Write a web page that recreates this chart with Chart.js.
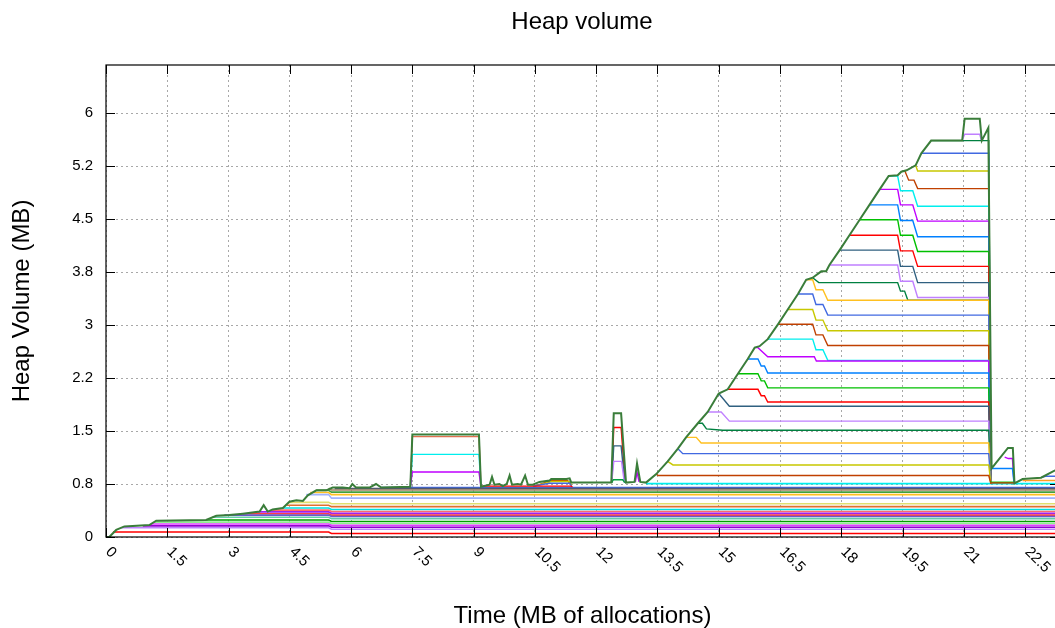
<!DOCTYPE html>
<html>
<head>
<meta charset="utf-8">
<title>Heap volume</title>
<script src="https://cdn.jsdelivr.net/npm/chart.js@4/dist/chart.umd.min.js"></script>
<style>
  html, body { margin: 0; padding: 0; background: #fff; overflow: hidden; }
  #wrap { width: 1164px; height: 628px; }
</style>
</head>
<body>
<div id="wrap"><canvas id="heap" width="1164" height="628"></canvas></div>
<script>
// ---- axis ticks ----
const xTickValues = [0, 1.5, 3, 4.5, 6, 7.5, 9, 10.5, 12, 13.5, 15, 16.5, 18, 19.5, 21, 22.5];
const xTickLabels = ['0', '1.5', '3', '4.5', '6', '7.5', '9', '10.5', '12', '13.5', '15', '16.5', '18', '19.5', '21', '22.5'];
const yTickValues = [0, 0.75, 1.5, 2.25, 3, 3.75, 4.5, 5.25, 6];
const yTickLabels = ['0', '0.8', '1.5', '2.2', '3', '3.8', '4.5', '5.2', '6'];
const timeMax = 23.33;
const heapMax = 6.68;

// ---- total heap volume (MB) over time (MB of allocations) ----
const totalHeap = [
  [0, 0], [0.08, 0], [0.25, 0.1], [0.45, 0.15], [1.06, 0.17], [1.23, 0.23], [2.45, 0.24],
  [2.7, 0.3], [3.02, 0.31], [3.35, 0.33], [3.76, 0.36], [3.86, 0.45], [3.96, 0.36], [4.08, 0.39],
  [4.33, 0.41], [4.49, 0.5], [4.66, 0.52], [4.82, 0.51], [4.94, 0.59], [5.15, 0.66], [5.39, 0.66],
  [5.55, 0.7], [5.8, 0.7], [5.96, 0.69], [6.03, 0.75], [6.12, 0.7], [6.45, 0.7], [6.61, 0.75],
  [6.74, 0.7], [7.45, 0.71], [7.5, 1.45], [9.13, 1.45], [9.18, 0.71], [9.39, 0.74], [9.45, 0.85],
  [9.51, 0.74], [9.63, 0.75], [9.71, 0.72], [9.81, 0.75], [9.88, 0.87], [9.94, 0.74], [10.08, 0.75],
  [10.16, 0.74], [10.26, 0.87], [10.33, 0.74], [10.45, 0.74], [10.61, 0.78], [10.86, 0.8],
  [10.9, 0.82], [11.27, 0.82], [11.35, 0.83], [11.39, 0.77], [12.37, 0.77], [12.43, 1.75],
  [12.61, 1.75], [12.73, 0.77], [12.94, 0.78], [13.0, 1.04], [13.08, 0.78], [13.22, 0.77],
  [13.47, 0.89], [13.75, 1.07], [14.0, 1.25], [14.2, 1.41], [14.49, 1.61], [14.73, 1.77],
  [15.0, 2.03], [15.22, 2.09], [15.47, 2.31], [15.71, 2.52], [15.88, 2.68], [16.0, 2.7],
  [16.2, 2.8], [16.45, 3.01], [16.69, 3.22], [16.94, 3.44], [17.14, 3.64], [17.3, 3.67],
  [17.51, 3.76], [17.63, 3.76], [17.71, 3.85], [17.96, 4.06], [18.2, 4.27], [18.45, 4.49],
  [18.69, 4.7], [18.94, 4.92], [19.16, 5.11], [19.38, 5.12], [19.47, 5.17], [19.6, 5.19],
  [19.82, 5.26], [19.96, 5.43], [20.2, 5.61], [20.96, 5.61], [21.02, 5.92], [21.39, 5.92],
  [21.44, 5.61], [21.6, 5.79], [21.68, 0.97], [22.08, 1.26], [22.2, 1.26], [22.24, 0.76],
  [22.44, 0.82], [22.89, 0.84], [23.22, 0.94], [23.33, 0.96]
];

// ---- long-lived allocation sites (cumulative levels) ----
const steadySites = [
  [[0.17, 0.07], [5.45, 0.07], [5.52, 0.05], [23.33, 0.05]],
  [[0.37, 0.13], [5.45, 0.13], [5.52, 0.11], [23.33, 0.11]],
  [[0.9, 0.157], [5.45, 0.157], [5.52, 0.137], [23.33, 0.137]],
  [[1.1, 0.185], [5.45, 0.185], [5.52, 0.165], [23.33, 0.165]],
  [[1.18, 0.21], [5.45, 0.21], [5.52, 0.19], [23.33, 0.19]],
  [[2.45, 0.24], [5.45, 0.24], [5.52, 0.22], [23.33, 0.22]],
  [[2.6, 0.28], [5.45, 0.28], [5.52, 0.26], [23.33, 0.26]],
  [[2.9, 0.31], [5.45, 0.31], [5.52, 0.29], [23.33, 0.29]],
  [[3.35, 0.33], [5.45, 0.33], [5.52, 0.31], [23.33, 0.31]],
  [[3.7, 0.355], [5.45, 0.355], [5.52, 0.335], [23.33, 0.335]],
  [[4.05, 0.38], [5.45, 0.38], [5.52, 0.36], [23.33, 0.36]],
  [[4.3, 0.41], [5.45, 0.41], [5.52, 0.39], [23.33, 0.39]],
  [[4.42, 0.45], [5.45, 0.45], [5.52, 0.43], [23.33, 0.43]],
  [[4.48, 0.49], [5.45, 0.49], [5.52, 0.47], [23.33, 0.47]],
  [[4.9, 0.6], [5.45, 0.6], [5.52, 0.55], [23.33, 0.55]],
  [[5.0, 0.63], [5.45, 0.63], [5.52, 0.6], [23.33, 0.6]],
  [[5.15, 0.66], [5.45, 0.66], [5.52, 0.635], [23.33, 0.635]],
  [[5.45, 0.69], [5.52, 0.665], [23.33, 0.665]],
  [[5.6, 0.685], [23.33, 0.685]],
  [[6.74, 0.7], [23.33, 0.7]],
  [[13.22, 0.755], [23.33, 0.755]]
];

// ---- short bursts between 7.5 and 13.2 MB ----
const burstSites = [
  [[7.45, 0.71], [7.5, 0.92], [9.13, 0.92], [9.18, 0.71]],
  [[7.45, 0.71], [7.5, 1.17], [9.13, 1.17], [9.18, 0.71]],
  [[7.45, 0.71], [7.5, 1.42], [9.13, 1.42], [9.18, 0.71]],
  [[9.18, 0.72], [11.38, 0.72], [11.42, 0.71]],
  [[10.45, 0.72], [10.86, 0.76], [11.35, 0.76], [11.4, 0.72]],
  [[10.5, 0.72], [10.9, 0.785], [11.35, 0.785], [11.4, 0.73]],
  [[10.55, 0.73], [10.9, 0.8], [11.3, 0.8], [11.38, 0.74]],
  [[12.38, 0.77], [12.42, 0.81], [12.65, 0.81], [12.7, 0.77]],
  [[12.38, 0.77], [12.43, 1.07], [12.62, 1.07], [12.69, 0.77]],
  [[12.38, 0.77], [12.43, 1.29], [12.61, 1.29], [12.7, 0.77]],
  [[12.38, 0.77], [12.43, 1.55], [12.61, 1.55], [12.71, 0.77]],
  [[12.96, 0.78], [13.0, 0.92], [13.05, 0.78]]
];

// ---- sites accumulated during the 13.2 - 21.6 MB build-up ----
const rampSites = [
  [[13.47, 0.89], [13.52, 0.87], [21.61, 0.87], [21.66, 0.76]],
  [[13.75, 1.07], [13.88, 1.02], [21.61, 1.02], [21.66, 0.76]],
  [[14.0, 1.25], [14.12, 1.18], [21.61, 1.18], [21.66, 0.76]],
  [[14.2, 1.41], [14.45, 1.41], [14.57, 1.33], [21.61, 1.33], [21.66, 0.76]],
  [[14.49, 1.61], [14.6, 1.61], [14.7, 1.53], [15.1, 1.51], [21.61, 1.51], [21.66, 0.76]],
  [[14.73, 1.77], [15.06, 1.77], [15.26, 1.64], [21.61, 1.64], [21.66, 0.76]],
  [[15.0, 2.03], [15.26, 1.85], [21.61, 1.85], [21.66, 0.76]],
  [[15.22, 2.09], [15.96, 2.09], [16.04, 2.0], [16.12, 2.0], [16.2, 1.91], [21.61, 1.91], [21.66, 0.76]],
  [[15.47, 2.31], [15.96, 2.31], [16.04, 2.21], [16.12, 2.21], [16.2, 2.11], [21.61, 2.11], [21.66, 0.76]],
  [[15.71, 2.52], [15.96, 2.52], [16.04, 2.42], [16.12, 2.42], [16.2, 2.32], [21.61, 2.32], [21.66, 0.76]],
  [[15.88, 2.68], [15.96, 2.68], [16.2, 2.55], [17.34, 2.55], [17.39, 2.49], [21.61, 2.49], [21.66, 0.76]],
  [[16.2, 2.8], [17.3, 2.8], [17.38, 2.65], [17.55, 2.65], [17.67, 2.5], [21.61, 2.5], [21.66, 0.76]],
  [[16.45, 3.01], [17.3, 3.01], [17.38, 2.86], [17.55, 2.86], [17.67, 2.71], [21.61, 2.71], [21.66, 0.76]],
  [[16.69, 3.22], [17.3, 3.22], [17.38, 3.07], [17.55, 3.07], [17.67, 2.92], [21.61, 2.92], [21.66, 0.76]],
  [[16.94, 3.44], [17.3, 3.44], [17.38, 3.29], [17.55, 3.29], [17.67, 3.14], [21.61, 3.14], [21.66, 0.76]],
  [[17.14, 3.64], [17.3, 3.64], [17.38, 3.5], [17.55, 3.5], [17.67, 3.35], [21.61, 3.35], [21.66, 0.76]],
  [[17.3, 3.67], [17.45, 3.6], [19.38, 3.6], [19.45, 3.48], [19.55, 3.48], [19.63, 3.35], [21.61, 3.35], [21.66, 0.76]],
  [[17.71, 3.85], [19.38, 3.85], [19.45, 3.62], [19.75, 3.62], [19.87, 3.39], [21.61, 3.39], [21.66, 0.76]],
  [[17.96, 4.06], [19.38, 4.06], [19.45, 3.83], [19.75, 3.83], [19.87, 3.6], [21.61, 3.6], [21.66, 0.76]],
  [[18.2, 4.27], [19.38, 4.27], [19.45, 4.05], [19.75, 4.05], [19.87, 3.83], [21.61, 3.83], [21.66, 0.76]],
  [[18.45, 4.49], [19.38, 4.49], [19.45, 4.27], [19.75, 4.27], [19.87, 4.04], [21.61, 4.04], [21.66, 0.76]],
  [[18.69, 4.7], [19.38, 4.7], [19.45, 4.48], [19.75, 4.48], [19.87, 4.25], [21.61, 4.25], [21.66, 0.76]],
  [[18.94, 4.92], [19.38, 4.92], [19.45, 4.7], [19.75, 4.7], [19.87, 4.47], [21.61, 4.47], [21.66, 0.76]],
  [[19.16, 5.11], [19.38, 5.11], [19.45, 4.9], [19.75, 4.9], [19.87, 4.68], [21.61, 4.68], [21.66, 0.76]],
  [[19.55, 5.19], [19.65, 5.05], [19.78, 5.05], [19.87, 4.93], [21.61, 4.93], [21.66, 0.76]],
  [[19.82, 5.26], [19.87, 5.18], [21.61, 5.18], [21.66, 0.76]],
  [[19.96, 5.43], [21.61, 5.43], [21.66, 0.76]],
  [[20.2, 5.61], [21.61, 5.61], [21.66, 0.76]],
  [[20.96, 5.61], [21.02, 5.7], [21.39, 5.7], [21.43, 5.61]]
];

// ---- after the release at 21.6 MB ----
const tailSites = [
  [[21.64, 0.765], [22.25, 0.765]],
  [[21.64, 0.775], [22.22, 0.775]],
  [[21.68, 0.97], [22.19, 0.97], [22.23, 0.76]],
  [[22.0, 1.13], [22.09, 1.11], [22.19, 1.11], [22.23, 0.76]],
  [[22.44, 0.8], [23.33, 0.8]],
  [[22.89, 0.84], [23.0, 0.86], [23.33, 0.86]]
];

// ---- line colours ----
const cycle = ['#ff0000', '#00c000', '#0080ff', '#c000ff', '#00eeee', '#c04000',
               '#c8c800', '#4169e1', '#ffc020', '#008040', '#c080ff', '#306080'];
const steadyColors = ['#ff0000', '#c080ff', '#9400d3', '#e040ff', '#90ee90', '#00a000', '#66cdaa',
                      '#6a5acd', '#ff4040', '#a020f0', '#ff6a6a', '#00e0e0', '#e07030', '#e0e070',
                      '#a0b4ff', '#ffc020', '#40a040', '#a08060', '#505870', '#4169e1', '#00eeee'];
const burstColors = ['#c000ff', '#00eeee', '#e07050', '#ff0000', '#4169e1', '#c8c800', '#c04000',
                     '#00a040', '#c080ff', '#306080', '#ff0000', '#c000ff'];
const rampColors = [];
for (let i = 0; i < 27; i++) rampColors.push(cycle[(i + 5) % 12]);
rampColors.push('#008040', '#c080ff');
const tailColors = ['#c04000', '#00c000', '#0080ff', '#c000ff', '#ffa020', '#4169e1'];
const totalColor = '#3a7d3a';

const FONT = '"Liberation Sans", Arial, Helvetica, sans-serif';

const datasets = [];
function addSites(list, colors, width) {
  list.forEach((pts, i) => {
    datasets.push({
      data: pts.map(([x, y]) => ({ x, y })),
      borderColor: colors[i % colors.length],
      borderWidth: width,
      pointRadius: 0,
      tension: 0,
      fill: false
    });
  });
}
// first dataset is painted last, so the total stays on top
addSites([totalHeap], [totalColor], 2);
addSites(tailSites, tailColors, 1.4);
addSites(rampSites, rampColors, 1.4);
addSites(burstSites, burstColors, 1.4);
addSites(steadySites, steadyColors, 1.6);

// border, inward tick marks and slanted time labels
const frame = {
  id: 'frame',
  afterDatasetsDraw(chart) {
    const { ctx, chartArea: a, scales: { x, y } } = chart;
    ctx.save();
    ctx.strokeStyle = '#000';
    ctx.lineWidth = 1;
    ctx.beginPath();
    xTickValues.forEach(v => {
      const px = Math.round(x.getPixelForValue(v)) + 0.5;
      ctx.moveTo(px, a.bottom); ctx.lineTo(px, a.bottom - 9);
      ctx.moveTo(px, a.top); ctx.lineTo(px, a.top + 9);
    });
    yTickValues.forEach(v => {
      const py = Math.round(y.getPixelForValue(v)) + 0.5;
      ctx.moveTo(a.left, py); ctx.lineTo(a.left + 9, py);
      ctx.moveTo(a.right, py); ctx.lineTo(a.right - 9, py);
    });
    ctx.stroke();
    ctx.lineWidth = 1.2;
    ctx.strokeRect(a.left, a.top, a.right - a.left, a.bottom - a.top);

    ctx.fillStyle = '#000';
    ctx.font = '15px ' + FONT;
    ctx.textAlign = 'left';
    ctx.textBaseline = 'middle';
    xTickValues.forEach((v, i) => {
      const px = x.getPixelForValue(v);
      ctx.save();
      ctx.translate(px + 2, a.bottom + 12.5);
      ctx.rotate(Math.PI / 4);
      ctx.fillText(xTickLabels[i], 0, 0);
      ctx.restore();
    });
    ctx.restore();
  }
};

new Chart(document.getElementById('heap'), {
  type: 'line',
  data: { datasets },
  plugins: [frame],
  options: {
    responsive: false,
    animation: false,
    events: [],
    layout: { padding: 0 },
    plugins: {
      legend: { display: false },
      tooltip: { enabled: false },
      title: {
        display: true,
        text: 'Heap volume',
        color: '#000',
        font: { family: FONT, size: 24, weight: 'normal' },
        padding: { top: 8, bottom: 28.2 }
      }
    },
    scales: {
      x: {
        type: 'linear',
        min: 0,
        max: timeMax,
        afterBuildTicks: s => { s.ticks = xTickValues.map(v => ({ value: v })); },
        afterFit: s => { s.height = 91; },
        ticks: { display: false },
        grid: { color: '#a8a8a8', lineWidth: 1, drawTicks: false },
        border: { display: false, dash: [2, 3] },
        title: {
          display: true,
          text: 'Time (MB of allocations)',
          color: '#000',
          font: { family: FONT, size: 24, weight: 'normal', lineHeight: 1 },
          padding: { top: 0, bottom: 0 }
        }
      },
      y: {
        type: 'linear',
        min: 0,
        max: heapMax,
        afterBuildTicks: s => { s.ticks = yTickValues.map(v => ({ value: v })); },
        afterFit: s => { s.width = 106; },
        ticks: {
          color: '#000',
          font: { family: FONT, size: 15 },
          padding: 13,
          callback: (v, i) => yTickLabels[i]
        },
        grid: { color: '#a8a8a8', lineWidth: 1, drawTicks: false },
        border: { display: false, dash: [2, 3] },
        title: {
          display: true,
          text: 'Heap Volume (MB)',
          color: '#000',
          font: { family: FONT, size: 24, weight: 'normal' },
          padding: { top: 8 }
        }
      },
      // empty right-hand margin so the plot frame runs just past the window edge
      margin: {
        type: 'linear',
        position: 'right',
        display: true,
        afterFit: s => { s.width = 105; },
        ticks: { display: false },
        grid: { display: false },
        border: { display: false }
      }
    }
  }
});
</script>
</body>
</html>
